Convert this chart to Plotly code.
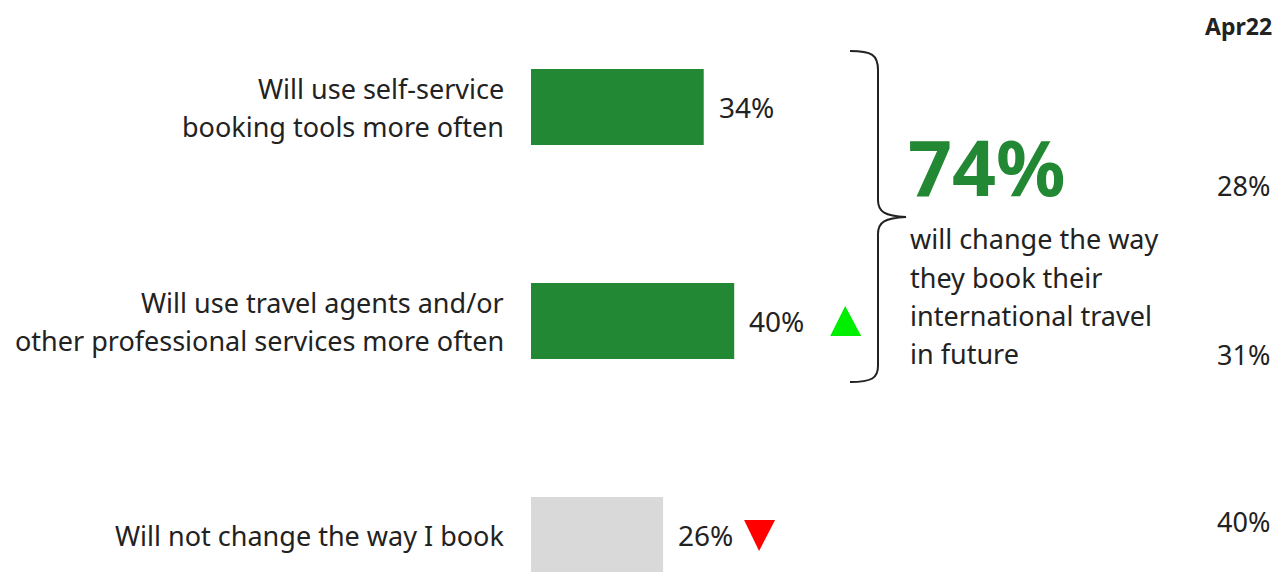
import plotly.graph_objects as go

# data
categories = [["Will use self-service", "booking tools more often"],
              ["Will use travel agents and/or", "other professional services more often"],
              ["Will not change the way I book"]]
values = [34, 40, 26]
bar_colors = ["#228833", "#228833", "#d9d9d9"]
trend = [None, "up", "down"]
prev_label = "Apr22"
prev_values = [28, 31, 40]
total_change = 74
total_lines = ["will change the way", "they book their", "international travel", "in future"]

# the page body adds an 8px margin, so the figure is drawn 8px smaller
OFF = 8
W, H = 1284 - OFF, 572 - OFF
LEFT = 531 - OFF
PX_PER_PCT = 5.08
xmax = (W - LEFT) / PX_PER_PCT
ROW0, ROWSTEP = 107 - OFF, 214
TXT = "#222222"
GREEN = "#228833"
FONT = "Noto Sans"
LINE_H = 38


def px(x, y):
    # reference pixel -> paper coords
    return (x - OFF - LEFT) / (W - LEFT), 1 - (y - OFF) / H


ypos = list(range(len(categories)))

fig = go.Figure()
fig.add_trace(go.Bar(
    x=values, y=ypos, orientation="h", width=0.355,
    marker=dict(color=bar_colors, line=dict(width=0)),
    hoverinfo="skip"))

# value labels + category labels
for i, (lines, v) in enumerate(zip(categories, values)):
    fig.add_annotation(x=v, y=i, xref="x", yref="y", text=f"{v}%",
                       showarrow=False, xanchor="left", xshift=13,
                       font=dict(family=FONT, size=28, color=TXT))
    n = len(lines)
    for k, line in enumerate(lines):
        fig.add_annotation(x=0, y=i, xref="paper", yref="y", text=line,
                           showarrow=False, xanchor="right", xshift=-25,
                           yshift=-(k - (n - 1) / 2) * LINE_H,
                           font=dict(family=FONT, size=27, color=TXT))

# trend triangles (pixel offsets from the bar end)
tri_off = {1: 111, 2: 96}
for i, t in enumerate(trend):
    if t is None:
        continue
    off = tri_off[i]
    if t == "up":
        path = f"M {off-15},-15 L {off+16},-15 L {off},15 Z"
        col = "#00ee00"
    else:
        path = f"M {off-15},15 L {off+16},15 L {off},-16 Z"
        col = "#ff0000"
    fig.add_shape(type="path", xref="x", yref="y", xsizemode="pixel", ysizemode="pixel",
                  xanchor=values[i], yanchor=i, path=path,
                  fillcolor=col, line=dict(width=0))


# curly brace
def P(x, y):
    a, b = px(x, y)
    return f"{a:.5f},{b:.5f}"


brace = (f"M {P(850,51)} C {P(872,51)} {P(878,55)} {P(878,70)} "
         f"L {P(878,200)} C {P(878,212)} {P(885,216)} {P(906,217)} "
         f"C {P(885,218)} {P(878,222)} {P(878,234)} "
         f"L {P(878,366)} C {P(878,378)} {P(872,382)} {P(850,382)}")
fig.add_shape(type="path", xref="paper", yref="paper", path=brace,
              line=dict(color="#222222", width=2))

# 74% callout
ax, ay = px(906, 166)
fig.add_annotation(x=ax, y=ay, xref="paper", yref="paper", text=f"<b>{total_change}%</b>",
                   showarrow=False, xanchor="left", yanchor="middle",
                   font=dict(family=FONT, size=77, color=GREEN))
for k, line in enumerate(total_lines):
    ax, ay = px(908, 239 + k * LINE_H)
    fig.add_annotation(x=ax, y=ay, xref="paper", yref="paper", text=line,
                       showarrow=False, xanchor="left", yanchor="middle",
                       font=dict(family=FONT, size=27, color=TXT))

# previous wave column
ax, ay = px(1274, 8)
fig.add_annotation(x=ax, y=ay, xref="paper", yref="paper", text=f"<b>{prev_label}</b>",
                   showarrow=False, xanchor="right", yanchor="top",
                   font=dict(family=FONT, size=23, color=TXT))
for v, yy in zip(prev_values, [186, 354, 521]):
    ax, ay = px(1243, yy)
    fig.add_annotation(x=ax, y=ay, xref="paper", yref="paper", text=f"{v}%",
                       showarrow=False, xanchor="center", yanchor="middle",
                       font=dict(family=FONT, size=27, color=TXT))

fig.update_layout(
    width=W, height=H, margin=dict(l=LEFT, r=0, t=0, b=0),
    paper_bgcolor="white", plot_bgcolor="white", showlegend=False,
    xaxis=dict(range=[0, xmax], visible=False, fixedrange=True),
    yaxis=dict(range=[(H - ROW0) / ROWSTEP, -ROW0 / ROWSTEP], visible=False, fixedrange=True),
)

fig.write_html("out.html")
